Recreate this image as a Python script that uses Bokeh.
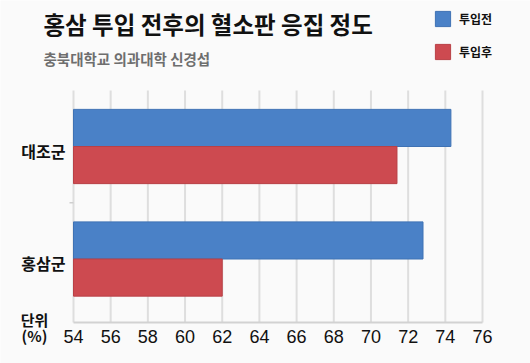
from bokeh.plotting import figure
from bokeh.models import ColumnDataSource, Range1d, Legend, LegendItem
from bokeh.core.properties import value
from bokeh.transform import dodge
from bokeh.embed import file_html
from bokeh.resources import INLINE

groups = ["홍삼군", "대조군"]
before = [72.8, 74.3]
after = [62.0, 71.4]
series_names = ["투입전", "투입후"]
x_ticks = [54, 56, 58, 60, 62, 64, 66, 68, 70, 72, 74, 76]

title_text = "홍삼 투입 전후의 혈소판 응집 정도"
subtitle_text = "충북대학교 의과대학 신경섭"
unit_lines = ["단위", "(%)"]

FONT = "Noto Sans CJK KR"
BLUE = "#4a81c7"
RED = "#cd4a50"
BG = "#fafafa"

W, H = 530, 363
# layout of the chart area in canvas pixels
AX_L, AX_R, AX_T, AX_B = 73, 482, 90, 322
X0, X1 = x_ticks[0], x_ticks[-1]
SX = (AX_R - AX_L) / (X1 - X0)        # px per value unit
SY = 112.5                             # px per category step
TOP_CAT_PX = 146                       # pixel row of the top category centre

x_start = X0 - AX_L / SX
x_end = x_start + W / SX
y_top = (len(groups) - 1) + TOP_CAT_PX / SY
y_bot = y_top - H / SY


def fx(px):
    return x_start + px / SX


def fy(py):
    return y_top - py / SY


src = ColumnDataSource(dict(group=groups, idx=list(range(len(groups))),
                            before=before, after=after))

p = figure(width=W, height=H, output_backend="svg", toolbar_location=None,
           x_range=Range1d(x_start, x_end), y_range=Range1d(y_bot, y_top),
           min_border=0, x_axis_location=None, y_axis_location=None)
p.background_fill_color = BG
p.border_fill_color = BG
p.outline_line_color = None
p.grid.visible = False

# grid lines, base line and group separator tick
p.segment(x0=x_ticks, x1=x_ticks, y0=[fy(AX_B)] * len(x_ticks), y1=[fy(AX_T)] * len(x_ticks),
          line_color="#dedede", line_width=2)
p.segment(x0=[X0], x1=[X1], y0=[fy(AX_B)], y1=[fy(AX_B)], line_color="#d2d2d2", line_width=2)
p.segment(x0=[fx(AX_L - 4)], x1=[X0], y0=[0.5], y1=[0.5], line_color="#cfcfcf", line_width=1.5)

r1 = p.hbar(y=dodge("idx", 0.165), left=X0, right="before", height=0.33,
            source=src, fill_color=BLUE, line_color="#3f72b4", line_width=1)
r2 = p.hbar(y=dodge("idx", -0.165), left=X0, right="after", height=0.33,
            source=src, fill_color=RED, line_color="#b94046", line_width=1)

# x tick labels
p.text(x=x_ticks, y=[fy(336)] * len(x_ticks), text=[str(t) for t in x_ticks],
       text_font=value("Liberation Sans"), text_font_size="18px", text_color="#111111",
       text_align="center", text_baseline="middle")

# category labels
p.text(x=X0, y="idx", text="group", source=src, x_offset=-8, y_offset=4,
       text_font=value(FONT), text_font_style="bold", text_font_size="16px",
       text_color="#111111", text_align="right", text_baseline="middle")

# unit label
p.text(x=[fx(34)] * 2, y=[fy(319), fy(335)], text=unit_lines,
       text_font=value(FONT), text_font_style="bold", text_font_size="15px",
       text_color="#111111", text_align="center", text_baseline="middle")

# title and subtitle
p.text(x=[fx(43)], y=[fy(23)], text=[title_text],
       text_font=value(FONT), text_font_style="bold", text_font_size="23.5px",
       text_color="#111111", text_align="left", text_baseline="middle")
p.text(x=[fx(43)], y=[fy(58)], text=[subtitle_text],
       text_font=value(FONT), text_font_style="bold", text_font_size="14.5px",
       text_color="#6e6e6e", text_align="left", text_baseline="middle")

legend = Legend(items=[LegendItem(label=series_names[0], renderers=[r1]),
                       LegendItem(label=series_names[1], renderers=[r2])],
                location=(433, H - 61), orientation="vertical",
                glyph_width=19, glyph_height=19, label_height=19, spacing=14,
                label_standoff=7, padding=0, margin=0,
                border_line_color=None, background_fill_alpha=0,
                label_text_font=FONT, label_text_font_style="bold",
                label_text_font_size="12px", label_text_color="#111111")
p.add_layout(legend, "center")

open("out.html", "w").write(file_html(p, INLINE))
